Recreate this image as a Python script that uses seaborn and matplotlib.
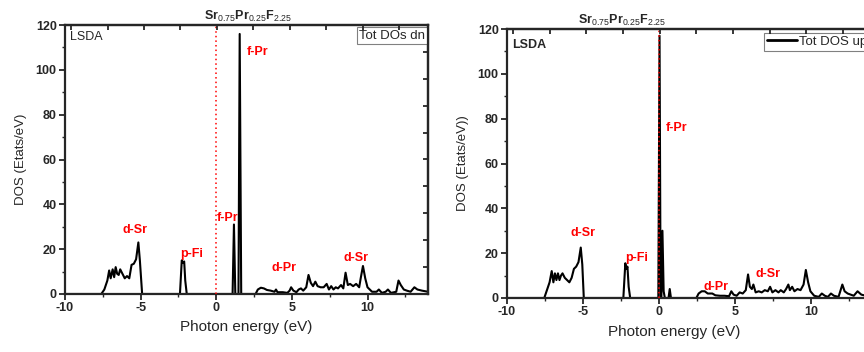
import numpy as np
import pandas as pd
import matplotlib
matplotlib.use("Agg")
import matplotlib.pyplot as plt
import seaborn as sns
from matplotlib.ticker import MultipleLocator, FixedLocator
from matplotlib.lines import Line2D

# ---------------- data ----------------
dn_energy = [-10, -7.6, -7.4, -7.2, -7.08, -6.98, -6.85, -6.75, -6.65, -6.55, -6.45, -6.35,
             -6.2, -6.05, -5.9, -5.75, -5.6, -5.45, -5.3, -5.15, -5.05, -4.9,
             -2.4, -2.28, -2.2, -2.12, -2.05, -1.95,
             1.08, 1.17, 1.26, 1.47, 1.55, 1.65,
             2.6, 2.75, 2.95, 3.15, 3.35, 3.6, 3.85, 3.95, 4.05, 4.4, 4.7, 4.85, 4.95,
             5.1, 5.3, 5.45, 5.6, 5.75, 5.95, 6.1, 6.25, 6.4, 6.55, 6.7, 6.9, 7.1, 7.3,
             7.45, 7.6, 7.75, 7.9, 8.05, 8.25, 8.4, 8.55, 8.7, 8.85, 9.05, 9.25, 9.45,
             9.55, 9.7, 9.85, 10.0, 10.3, 10.6, 10.75, 10.95, 11.2, 11.35, 11.55, 11.9,
             12.05, 12.2, 12.4, 12.6, 12.85, 13.1, 13.3, 13.6, 14.0]
dn_dos = [0, 0, 2, 6, 10.5, 7, 11, 7.5, 12, 9, 8.5, 11,
          9, 7, 8, 7, 13, 13.5, 15.5, 23, 15, 0,
          0, 15, 14, 14.5, 6, 0,
          0, 31, 0, 0, 116, 0,
          0, 2, 2.8, 2.5, 1.8, 1.5, 1, 2, 0.8, 0.8, 0.5, 1.5, 3,
          1.5, 0.8, 2, 2.5, 1.5, 3, 8.5, 5, 3.5, 5.5, 3.5, 3, 3, 4.5,
          2, 3.5, 2, 3, 2.5, 4, 2.5, 9.5, 4, 4.5, 3.5, 4.5, 3,
          7, 12.5, 7, 3, 1, 1, 2, 0.5, 1, 2, 0.5, 1,
          6, 4, 2, 1.5, 1, 3, 2, 1.5, 1]

up_energy = [-10, -7.55, -7.4, -7.2, -7.06, -6.95, -6.85, -6.75, -6.65, -6.55, -6.45, -6.35,
             -6.2, -6.05, -5.9, -5.75, -5.6, -5.45, -5.3, -5.15, -5.05, -4.95,
             -2.35, -2.22, -2.15, -2.08, -2.0, -1.9,
             -0.05, 0.03, 0.1, 0.15, 0.22, 0.3, 0.38, 0.62, 0.7, 0.78,
             2.45, 2.6, 2.8, 3.0, 3.2, 3.5, 3.7, 4.0, 4.3, 4.6, 4.75, 4.9, 5.1, 5.3,
             5.5, 5.7, 5.85, 5.97, 6.1, 6.2, 6.35, 6.55, 6.75, 6.95, 7.15, 7.3, 7.45,
             7.65, 7.85, 8.0, 8.2, 8.35, 8.5, 8.6, 8.75, 8.9, 9.1, 9.3, 9.5, 9.65, 9.8,
             9.95, 10.2, 10.5, 10.7, 10.9, 11.1, 11.3, 11.5, 11.8, 12.05, 12.2, 12.4,
             12.6, 12.8, 13.05, 13.3, 13.6, 14.0]
up_dos = [0, 0, 3, 7, 12, 7, 11, 8, 11, 8, 10, 11,
          9, 8, 7, 9, 13, 14, 16, 22.5, 15, 0,
          0, 15.5, 13, 14, 5, 0,
          0, 117, 0, 0, 30, 3, 0, 0, 4, 0,
          0, 2, 3, 3, 2, 2, 1.2, 1, 1, 0.8, 3, 1.5, 1, 2.5,
          2, 3.5, 10.5, 5, 4, 6, 2.5, 3, 2.5, 3.5, 3, 5, 2.5,
          3.5, 2.5, 3.5, 2.5, 4, 6, 3.5, 5, 3, 4, 3.5, 6, 12.5, 7,
          3, 1, 0.5, 2, 1, 0.5, 2, 1, 0.5, 6, 3, 2,
          1.5, 1, 3, 1.5, 1, 0.5]

dn_labels = ["d-Sr", "p-Fi", "f-Pr", "f-Pr", "d-Pr", "d-Sr"]
dn_label_x = [-5.4, -1.6, 0.75, 2.75, 4.5, 9.25]
dn_label_y = [28.5, 18, 34, 108, 11.5, 16]

up_labels = ["d-Sr", "p-Fi", "f-Pr", "d-Pr", "d-Sr"]
up_label_x = [-5.0, -1.45, 1.15, 3.75, 7.15]
up_label_y = [29, 18, 76, 5, 10.7]

xticks = [-10, -5, 0, 5, 10]
yticks = [0, 20, 40, 60, 80, 100, 120]

# ---------------- style ----------------
sns.set_style("ticks")
plt.rcParams['font.family'] = ['Liberation Sans', 'DejaVu Sans']
plt.rcParams['axes.unicode_minus'] = False
plt.rcParams['mathtext.fontset'] = 'custom'
plt.rcParams['mathtext.rm'] = 'Liberation Sans'
plt.rcParams['mathtext.bf'] = 'Liberation Sans:bold'
plt.rcParams['mathtext.it'] = 'Liberation Sans:italic'

fig = plt.figure(figsize=(8.64, 3.52), dpi=100)
W, H = 864, 352
axL = fig.add_axes([65 / W, 1 - 294 / H, 363 / W, 269 / H])
axR = fig.add_axes([507 / W, 1 - 298 / H, 365 / W, 269 / H])

dfL = pd.DataFrame({"E": dn_energy, "DOS": dn_dos})
dfR = pd.DataFrame({"E": up_energy, "DOS": up_dos})

sns.lineplot(data=dfL, x="E", y="DOS", ax=axL, color="black", lw=1.5,
             estimator=None, sort=False)
sns.lineplot(data=dfR, x="E", y="DOS", ax=axR, color="black", lw=1.5,
             estimator=None, sort=False, label="Tot DOS up")

title = r'$\mathbf{Sr}_{0.75}\mathbf{Pr}_{0.25}\mathbf{F}_{2.25}$'

top_ticks = list(np.arange(-9.6, 14.0, 2.41))

for ax, labels, lx, ly, bold_lsda in [
        (axL, dn_labels, dn_label_x, dn_label_y, False),
        (axR, up_labels, up_label_x, up_label_y, True)]:
    ax.axvline(0, color="red", ls=(0, (1, 2)), lw=1.1, zorder=5)
    ax.set_xlim(-10, 14)
    ax.set_ylim(0, 120)
    ax.set_xticks(xticks)
    ax.set_yticks(yticks)
    ax.xaxis.set_minor_locator(MultipleLocator(2.5))
    ax.yaxis.set_minor_locator(MultipleLocator(10))
    for sp in ax.spines.values():
        sp.set_linewidth(1.6)
        sp.set_visible(True)
    ax.tick_params(axis="both", which="major", length=4, width=1.3, labelsize=9,
                   direction="out", pad=2)
    ax.tick_params(axis="both", which="minor", length=2, width=1.0, direction="out")
    for t in ax.get_xticklabels() + ax.get_yticklabels():
        t.set_fontweight("bold")
    ax.set_xlabel("Photon energy (eV)", fontsize=11, labelpad=4)
    for t, x, y in zip(labels, lx, ly):
        ax.text(x, y, t, color="red", fontsize=9, fontweight="bold",
                ha="center", va="center")
    ax.text(0.015, 0.955 if not bold_lsda else 0.94, "LSDA", transform=ax.transAxes,
            fontsize=9, fontweight="bold" if bold_lsda else "normal",
            ha="left", va="center")
    # top ticks (inward)
    tw = ax.twiny()
    tw.set_xlim(-10, 14)
    tw.xaxis.set_major_locator(FixedLocator(top_ticks))
    tw.tick_params(axis="x", which="major", direction="in", length=3.5, width=1.3,
                   labeltop=False)
    tw.spines["top"].set_linewidth(1.6)
    for s in ["left", "right", "bottom"]:
        tw.spines[s].set_visible(False)

axR.xaxis.set_label_coords((674 - 507) / 365, -0.1)

axL.set_ylabel("DOS (Etats/eV)", fontsize=9.5, labelpad=6)
axR.set_ylabel("DOS (Etats/eV))", fontsize=9.5, labelpad=6)

# right-side inward ticks on left panel
rt = axL.twinx()
rt.set_ylim(0, 120)
rt.yaxis.set_major_locator(FixedLocator(list(np.arange(12, 120, 12))))
rt.tick_params(axis="y", direction="in", length=3.5, width=1.3, labelright=False)
for s in ["left", "top", "bottom"]:
    rt.spines[s].set_visible(False)
rt.spines["right"].set_linewidth(1.6)

axL.text(0.504, 1.005, title, transform=axL.transAxes, ha="center", va="bottom",
         fontsize=9)
axR.text(0.315, 1.005, title, transform=axR.transAxes, ha="center", va="bottom",
         fontsize=9)

# legends
legL = axL.legend(handles=[Line2D([], [], color="none")], labels=["Tot DOs dn"],
                  loc="upper right", bbox_to_anchor=(1.0, 0.993), borderaxespad=0,
                  handlelength=0, handletextpad=0, fancybox=False, framealpha=1,
                  edgecolor="gray", fontsize=9.5, borderpad=0.2)
legL.get_frame().set_linewidth(0.8)
legR = axR.legend(loc="upper left", bbox_to_anchor=(0.705, 0.985), borderaxespad=0,
                  handlelength=2.3, handletextpad=0.1, fancybox=False, framealpha=1,
                  edgecolor="gray", fontsize=9.5, borderpad=0.2)
legR.get_frame().set_linewidth(0.8)
for l in legR.get_lines():
    l.set_linewidth(2)

fig.savefig("out.png", dpi=100)
